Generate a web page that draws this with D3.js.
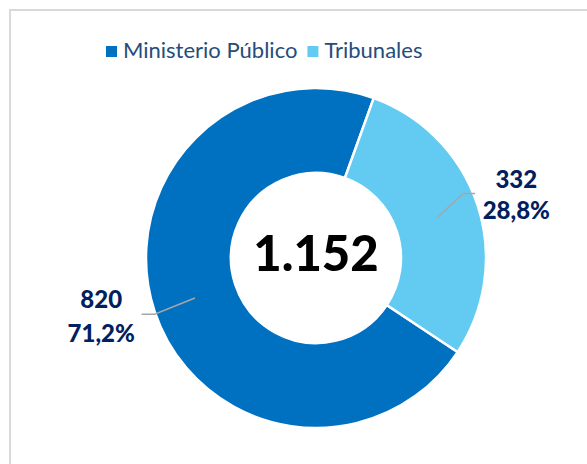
<!DOCTYPE html>
<html>
<head>
<meta charset="utf-8">
<script src="https://cdn.jsdelivr.net/npm/d3@7"></script>
<style>
  html, body { margin: 0; padding: 0; background: #ffffff; }
  svg { display: block; }
</style>
</head>
<body>
<svg id="chart" width="587" height="464"></svg>
<script>
// Causas por institución
const categories = ["Ministerio Público", "Tribunales"];
const values = [820, 332];
const percentLabels = ["71,2%", "28,8%"];
const totalLabel = "1.152";
const colors = ["#0070C0", "#63CAF2"];

const width = 587, height = 464;
const svg = d3.select("#chart");

// chart frame
svg.append("rect")
  .attr("x", 10).attr("y", 10)
  .attr("width", 600).attr("height", 480)
  .attr("fill", "#ffffff")
  .attr("stroke", "#d9d9d9")
  .attr("stroke-width", 2);

const cx = 316, cy = 258;
const outerR = 170, innerR = 85;
const firstAngle = 123.6 * Math.PI / 180;

const pie = d3.pie().sort(null).value(d => d)
  .startAngle(firstAngle).endAngle(firstAngle + 2 * Math.PI);
const arcs = pie(values);
const arc = d3.arc().innerRadius(innerR).outerRadius(outerR);
const color = d3.scaleOrdinal().domain(categories).range(colors);

const g = svg.append("g").attr("transform", `translate(${cx},${cy})`);

g.selectAll("path.slice")
  .data(arcs)
  .join("path")
  .attr("class", "slice")
  .attr("d", arc)
  .attr("fill", (d, i) => color(categories[i]))
  .attr("stroke", "#ffffff")
  .attr("stroke-width", 2.5)
  .attr("stroke-linejoin", "miter");

// total in the hole
g.append("text")
  .attr("x", 0).attr("y", 13)
  .attr("text-anchor", "middle")
  .attr("font-family", "Lato, sans-serif")
  .attr("font-weight", 900)
  .attr("font-size", 49)
  .attr("fill", "#000000")
  .text(totalLabel);

// leader lines and value labels: the elbow sits just outside the ring,
// the label block a little further out along the slice's mid angle
const labelLayout = [
  { side: -1, elbowR: 170, elbowDy: 3, labelR: 222, dxLabel: -4, dy: -20, lineGap: 34, tail: 13 },
  { side: 1, elbowR: 155, elbowDy: -16, labelR: 212, dxLabel: -1, dy: -4, lineGap: 31, tail: 12 }
];

arcs.forEach((a, i) => {
  const L = labelLayout[i];
  const mid = (a.startAngle + a.endAngle) / 2;
  const [c0x, c0y] = arc.centroid(a);
  const ex = L.elbowR * Math.sin(mid);
  const ey = -L.elbowR * Math.cos(mid) + L.elbowDy;
  const tx = ex + L.side * L.tail;
  g.append("polyline")
    .attr("points", [[c0x, c0y], [ex, ey], [tx, ey]].map(p => p.join(",")).join(" "))
    .attr("fill", "none")
    .attr("stroke", "#A6A6A6")
    .attr("stroke-width", 1.5);

  const lx = L.labelR * Math.sin(mid) + L.dxLabel;
  const ly = -L.labelR * Math.cos(mid) + L.dy;
  const t = g.append("text")
    .attr("text-anchor", "middle")
    .attr("font-family", "Lato, sans-serif")
    .attr("font-weight", 900)
    .attr("font-size", 24)
    .attr("fill", "#002060");
  t.append("tspan").attr("x", lx).attr("y", ly).text(values[i]);
  t.append("tspan").attr("x", lx).attr("y", ly + L.lineGap).text(percentLabels[i]);
});

// legend
const legend = svg.append("g").attr("font-family", "Lato, sans-serif").attr("font-size", 22);
const items = legend.selectAll("g").data(categories).join("g");
items.append("rect").attr("width", 11).attr("height", 11).attr("y", -12).attr("fill", d => color(d));
items.append("text").attr("x", 17).attr("y", 0).attr("fill", "#264D7A").text(d => d);
const widths = [];
items.each(function () { widths.push(this.getBBox().width); });
const gap = 10;
let x0 = 106;
items.attr("transform", (d, i) => {
  const x = x0;
  x0 += widths[i] + gap;
  return `translate(${x},58)`;
});
</script>
</body>
</html>
